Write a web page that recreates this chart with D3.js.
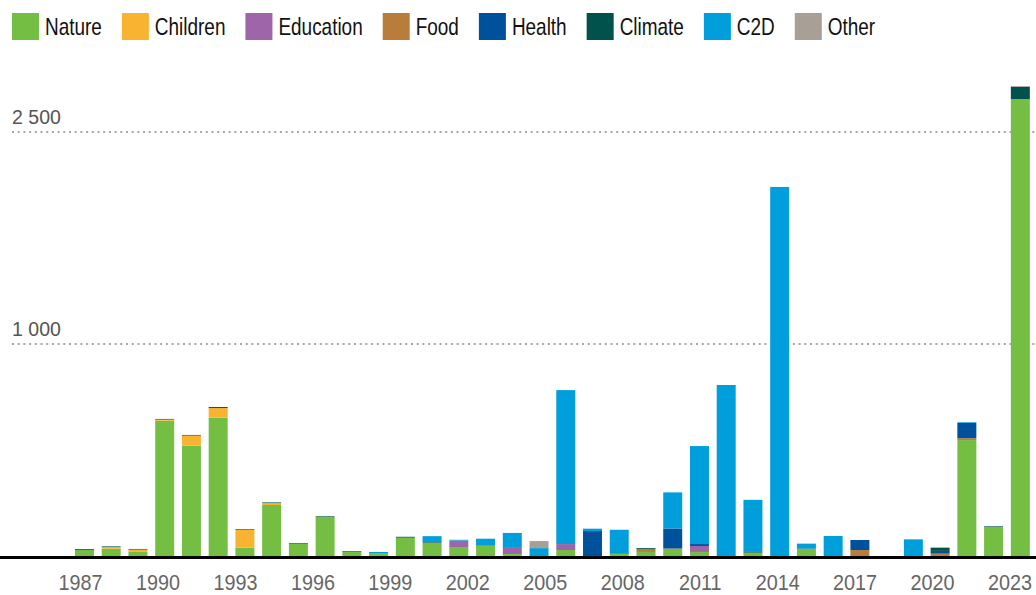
<!DOCTYPE html>
<html><head><meta charset="utf-8">
<script src="https://cdn.jsdelivr.net/npm/d3@7"></script>
<style>body{margin:0;background:#fff} svg{display:block}</style>
</head><body><svg id="c" width="1036" height="595"></svg>
<script>
const years = ["1987","1988","1989","1990","1991","1992","1993","1994","1995","1996","1997","1998","1999","2000","2001","2002","2003","2004","2005","2006","2007","2008","2009","2010","2011","2012","2013","2014","2015","2016","2017","2018","2019","2020","2021","2022"];
const nature    = [35,41,26,641,524,655,46,246,65,190,27,21,93,69,49,55,16,0,35,5,17,26,40,26,0,23,5,40,0,0,0,0,0,550,143,2733];
const children  = [0,8,11,5,47,45,84,9,0,0,0,0,0,0,0,0,0,0,0,0,0,0,0,0,0,0,0,0,0,0,0,0,0,0,0,0];
const education = [0,0,0,0,0,0,0,0,0,0,0,0,0,0,30,0,33,5,28,0,0,0,0,28,0,0,0,0,0,0,0,0,0,0,0,0];
const food      = [0,0,0,0,0,0,0,0,0,0,0,0,0,0,0,0,0,0,0,0,0,14,2,0,0,0,0,0,0,35,0,0,18,9,0,0];
const health    = [0,0,0,0,0,5,0,0,0,0,0,0,0,0,0,0,0,0,0,119,0,0,94,9,0,0,0,0,0,47,0,3,13,72,0,0];
const climate   = [4,3,3,3,3,0,3,3,3,3,3,0,4,3,0,2,0,0,0,0,0,4,0,0,0,3,0,2,0,0,0,0,14,0,3,87];
const c2d       = [0,0,0,0,0,0,0,0,0,0,0,5,0,28,4,31,66,39,721,11,113,0,169,459,808,244,2106,23,101,0,0,82,2,3,0,0];
const other     = [0,0,0,0,0,0,0,0,0,0,0,0,0,0,0,0,0,33,0,0,0,0,0,0,0,0,0,0,0,0,0,0,0,0,0,5];

const seriesNames = ["Nature","Children","Education","Food","Health","Climate","C2D","Other"];
const seriesColors = ["#74BE43","#F8B431","#9E66A8","#B87D3B","#00519C","#00524A","#009FDB","#A89F97"];
const yTicks = [1000, 2500];
const yTickLabels = ["1 000", "2 500"];
const xTickYears = [1987,1990,1993,1996,1999,2002,2005,2008,2011,2014,2017,2020,2023];

const allSeries = [nature, children, education, food, health, climate, c2d, other];
const table = years.map((yr, i) => {
  const row = {year: yr};
  seriesNames.forEach((k, j) => row[k] = allSeries[j][i]);
  return row;
});

const svg = d3.select("#c");
const FONT = "'Liberation Sans',Arial,sans-serif";

const x = d3.scaleBand().domain(years).range([71.1, 1033.7]).paddingInner(0.29).paddingOuter(0.145);
const y = d3.scaleLinear().domain([0, 1000, 2500]).range([557.5, 344, 132]);
const xTick = d3.scaleLinear().domain([1987, 2023]).range([80, 1009.5]);
const color = d3.scaleOrdinal().domain(seriesNames).range(seriesColors);

// gridlines
svg.append("g").selectAll("line").data(yTicks).join("line")
  .attr("x1", 12).attr("x2", 1036)
  .attr("y1", d => y(d)).attr("y2", d => y(d))
  .attr("stroke", "#8a8a8a").attr("stroke-width", 1.5)
  .attr("stroke-dasharray", "2,3.7");

svg.append("g").selectAll("g").data(yTicks).join("g")
  .attr("transform", d => `translate(12,${y(d) - 8.5}) scale(0.93,1)`)
  .append("text")
  .attr("fill", "#555").attr("font-family", FONT).attr("font-size", 21)
  .text((d, i) => yTickLabels[i]);

// bars
const stacked = d3.stack().keys(seriesNames)(table);
svg.append("g").selectAll("g").data(stacked).join("g")
  .attr("fill", d => color(d.key))
  .selectAll("rect").data(d => d).join("rect")
  .attr("x", d => x(d.data.year))
  .attr("width", x.bandwidth())
  .attr("y", d => y(d[1]))
  .attr("height", d => Math.max(0, y(d[0]) - y(d[1])));

// baseline
svg.append("line").attr("x1", 0).attr("x2", 1036).attr("y1", 557.5).attr("y2", 557.5)
  .attr("stroke", "#000").attr("stroke-width", 3);

// x axis labels
const xa = svg.append("g").attr("transform", "translate(0,568)")
  .call(d3.axisBottom(xTick).tickValues(xTickYears).tickFormat(d3.format("d")).tickSize(0));
xa.select(".domain").remove();
xa.selectAll("text").attr("font-family", FONT).attr("font-size", 22).attr("fill", "#666")
  .attr("dy", null).attr("y", 22).attr("transform", "scale(0.9,1)");

// legend
const SX = 0.79;
const lg = svg.append("g");
let lx = 12;
seriesNames.forEach((name, i) => {
  lg.append("rect").attr("x", lx).attr("y", 13).attr("width", 27).attr("height", 27).attr("fill", seriesColors[i]);
  const t = lg.append("g").attr("transform", `translate(${lx + 33},34.5) scale(${SX},1)`)
    .append("text").attr("font-family", FONT).attr("font-size", 24).attr("fill", "#111").text(name);
  lx += 33 + t.node().getComputedTextLength() * SX + 20;
});
</script>
</body></html>
